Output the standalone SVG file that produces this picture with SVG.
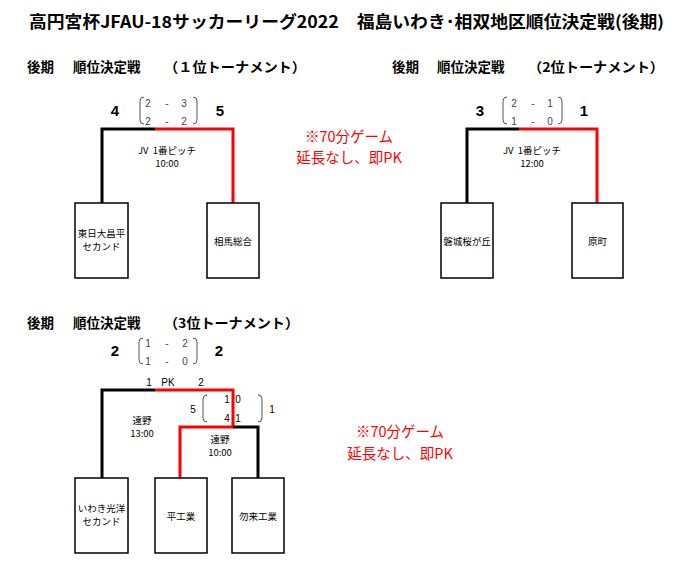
<svg xmlns="http://www.w3.org/2000/svg" width="690" height="564" viewBox="0 0 690 564">
<style>
text{font-family:"Noto Sans CJK JP","Liberation Sans",sans-serif;fill:#000}
.title{font-size:16.5px;font-weight:bold}
.hdr{font-size:13.5px;font-weight:bold}
.big{font-size:15px;font-weight:bold;text-anchor:middle;font-family:"Liberation Sans","Noto Sans CJK JP",sans-serif}
.sc{font-size:10px;text-anchor:middle;fill:#444;font-family:"Liberation Sans",sans-serif}
.dk{fill:#000}
.info{font-size:9.5px;text-anchor:middle}
.team{font-size:9.5px;text-anchor:middle}
.note{font-size:14.5px;text-anchor:middle;fill:#ff0000}
.box{fill:#fff;stroke:#000;stroke-width:1.5}
.lb{fill:none;stroke:#000;stroke-width:3}
.lr{fill:none;stroke:#ff0000;stroke-width:3}
.par{fill:none;stroke:#555;stroke-width:1}
</style>
<rect width="690" height="564" fill="#fff"/>
<text class="title" x="29" y="28" textLength="635" lengthAdjust="spacingAndGlyphs">高円宮杯JFAU-18サッカーリーグ2022　福島いわき･相双地区順位決定戦(後期)</text>

<g id="header1">
<text class="hdr" x="27" y="72">後期</text>
<text class="hdr" x="73" y="72">順位決定戦</text>
<text class="hdr" x="164" y="72" textLength="142" lengthAdjust="spacingAndGlyphs">（１位トーナメント）</text>
</g>
<g id="header2">
<text class="hdr" x="392" y="72">後期</text>
<text class="hdr" x="437" y="72">順位決定戦</text>
<text class="hdr" x="528" y="72" textLength="136" lengthAdjust="spacingAndGlyphs">（2位トーナメント）</text>
</g>
<g id="header3">
<text class="hdr" x="27" y="328">後期</text>
<text class="hdr" x="73" y="328">順位決定戦</text>
<text class="hdr" x="164" y="328" textLength="135" lengthAdjust="spacingAndGlyphs">（3位トーナメント）</text>
</g>

<g id="connectors">
<path class="lb" d="M102,203 V129 H155"/>
<path class="lr" d="M155,129 H233 V203"/>
<path class="lb" d="M467,203 V129 H519"/>
<path class="lr" d="M519,129 H597 V203"/>
<path class="lb" d="M102,478 V390 H155"/>
<path class="lr" d="M155,390 H233 V427 H180 V478"/>
<path class="lb" d="M233,427 H258 V478"/>
</g>

<g id="match1">
<text class="big" x="115" y="116">4</text>
<text class="big" x="220" y="116">5</text>
<path class="par" d="M144,97 Q140,97 140,101 V120 Q140,124 144,124"/>
<path class="par" d="M193,97 Q197,97 197,101 V120 Q197,124 193,124"/>
<text class="sc" x="148" y="107">2</text><text class="sc" x="167" y="107">-</text><text class="sc" x="184" y="107">3</text>
<text class="sc" x="148" y="125">2</text><text class="sc" x="167" y="125">-</text><text class="sc" x="184" y="125">2</text>
<text class="info" x="167" y="154">JV&#160;&#160;1番ピッチ</text>
<text class="info" x="167" y="167">10:00</text>
</g>
<g id="note1">
<text class="note" x="349" y="141.5">※70分ゲーム</text>
<text class="note" x="349" y="163">延長なし、即PK</text>
</g>
<g id="team-higashinichidai">
<rect class="box" x="75" y="203" width="53" height="75"/>
<text class="team" x="101.5" y="237">東日大昌平</text>
<text class="team" x="101.5" y="250">セカンド</text>
</g>
<g id="team-soma">
<rect class="box" x="207" y="203" width="52" height="75"/>
<text class="team" x="233" y="245">相馬総合</text>
</g>

<g id="match2">
<text class="big" x="480" y="116">3</text>
<text class="big" x="584" y="116">1</text>
<path class="par" d="M507,97 Q503,97 503,101 V120 Q503,124 507,124"/>
<path class="par" d="M558,97 Q562,97 562,101 V120 Q562,124 558,124"/>
<text class="sc" x="514" y="107">2</text><text class="sc" x="533" y="107">-</text><text class="sc" x="550" y="107">1</text>
<text class="sc" x="514" y="125">1</text><text class="sc" x="533" y="125">-</text><text class="sc" x="550" y="125">0</text>
<text class="info" x="532" y="154">JV&#160;&#160;1番ピッチ</text>
<text class="info" x="532" y="167">12:00</text>
</g>
<g id="team-iwakisakuragaoka">
<rect class="box" x="441" y="203" width="52" height="75"/>
<text class="team" x="467" y="245">磐城桜が丘</text>
</g>
<g id="team-haramachi">
<rect class="box" x="572" y="203" width="51" height="75"/>
<text class="team" x="597.5" y="245">原町</text>
</g>

<g id="match3">
<text class="big" x="115" y="356">2</text>
<text class="big" x="219" y="356">2</text>
<path class="par" d="M143,338 Q139,338 139,342 V360 Q139,364 143,364"/>
<path class="par" d="M193,338 Q197,338 197,342 V360 Q197,364 193,364"/>
<text class="sc" x="148" y="347">1</text><text class="sc" x="167" y="347">-</text><text class="sc" x="185" y="347">2</text>
<text class="sc" x="148" y="365">1</text><text class="sc" x="167" y="365">-</text><text class="sc" x="185" y="365">0</text>
<text class="sc dk" x="149" y="386">1</text>
<text class="sc dk" x="168" y="386">PK</text>
<text class="sc dk" x="201" y="386">2</text>
<text class="info" x="142" y="424">遠野</text>
<text class="info" x="142" y="437">13:00</text>
</g>
<g id="match3-semi">
<text class="sc dk" x="193" y="413">5</text>
<path class="par" d="M207,395 Q203,395 203,399 V418 Q203,422 207,422"/>
<path class="par" d="M258,395 Q262,395 262,399 V418 Q262,422 258,422"/>
<text class="sc dk" x="227" y="403">1</text><text class="sc dk" x="238" y="403">0</text>
<text class="sc dk" x="227" y="422">4</text><text class="sc dk" x="238" y="422">1</text>
<text class="sc dk" x="272" y="413">1</text>
<text class="info" x="220" y="443">遠野</text>
<text class="info" x="220" y="456">10:00</text>
</g>
<g id="note2">
<text class="note" x="400" y="437">※70分ゲーム</text>
<text class="note" x="400" y="458.5">延長なし、即PK</text>
</g>
<g id="team-iwakikoyo">
<rect class="box" x="75" y="478" width="53" height="75"/>
<text class="team" x="101.5" y="512">いわき光洋</text>
<text class="team" x="101.5" y="525">セカンド</text>
</g>
<g id="team-tairakogyo">
<rect class="box" x="155" y="478" width="52" height="75"/>
<text class="team" x="181" y="520">平工業</text>
</g>
<g id="team-nakosokogyo">
<rect class="box" x="232" y="478" width="52" height="75"/>
<text class="team" x="258" y="520">勿来工業</text>
</g>
</svg>
